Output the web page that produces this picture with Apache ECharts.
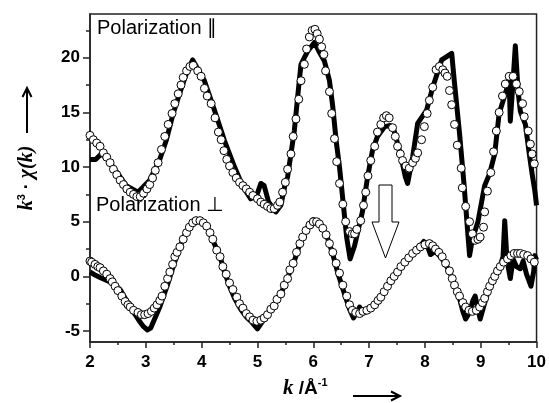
<!DOCTYPE html>
<html>
<head>
<meta charset="utf-8">
<script src="https://cdn.jsdelivr.net/npm/echarts@6/dist/echarts.min.js"></script>
<style>
  html, body { margin: 0; padding: 0; background: #fff; }
  #chart { width: 549px; height: 403px; }
</style>
</head>
<body>
<div id="chart"></div>
<script>
// 数据: [k, k^3·χ(k)]
// 平行偏振 - 实验 (粗黑线)
const parExp = [
  [2.0,10.7],[2.1,10.7],[2.2,11.2],[2.3,10.8],[2.5,9.4],[2.65,8.3],[2.86,7.7],[3.07,8.8],
  [3.25,10.7],[3.37,12.5],[3.49,14.9],[3.61,16.8],[3.73,18.6],[3.84,19.8],[4.05,17.9],
  [4.23,15.2],[4.41,12.4],[4.59,10.0],[4.74,8.2],[4.88,7.1],[4.98,7.3],[5.06,8.5],[5.12,8.3],
  [5.2,6.8],[5.33,5.9],[5.42,6.5],[5.49,8.3],[5.54,9.1],[5.6,11.2],[5.66,13.3],[5.72,16.4],
  [5.78,19.4],[5.9,20.6],[6.02,21.4],[6.1,20.6],[6.2,19.7],[6.29,17.9],[6.35,15.5],[6.41,12.4],
  [6.47,10.0],[6.53,7.0],[6.6,3.5],[6.66,1.6],[6.74,2.8],[6.88,5.9],[6.97,9.0],[7.06,11.5],
  [7.15,12.8],[7.28,13.7],[7.38,13.8],[7.45,13.3],[7.56,11.2],[7.65,9.1],[7.69,8.5],[7.78,10.9],
  [7.87,14.0],[8.03,15.2],[8.14,17.3],[8.3,19.8],[8.48,20.4],[8.53,17.7],[8.62,13.1],[8.7,8.5],
  [8.76,4.5],[8.8,1.9],[8.85,3.4],[8.95,5.0],[9.07,8.3],[9.16,9.4],[9.25,11.2],[9.33,14.9],
  [9.44,16.7],[9.51,17.9],[9.53,14.2],[9.58,17.9],[9.62,21.1],[9.67,16.9],[9.71,15.1],
  [9.8,13.9],[9.87,11.2],[9.92,9.4],[9.97,7.8],[10.0,6.5]
];
// 平行偏振 - 拟合 (空心圆)
const parFit = [
  [2.0,12.9],[2.06,12.5],[2.12,12.2],[2.18,11.9],[2.24,11.3],[2.3,10.9],[2.36,10.4],[2.42,9.8],
  [2.48,9.3],[2.54,8.8],[2.6,8.4],[2.66,8.0],[2.72,7.7],[2.78,7.5],[2.84,7.3],[2.9,7.3],
  [2.96,7.6],[3.02,8.0],[3.07,8.4],[3.12,9.0],[3.17,9.7],[3.22,10.4],[3.28,11.6],[3.34,12.8],
  [3.4,13.9],[3.47,14.9],[3.52,15.8],[3.58,16.7],[3.63,17.5],[3.67,18.2],[3.73,18.8],[3.79,19.2],
  [3.85,19.3],[3.93,18.8],[3.99,18.3],[4.05,17.2],[4.1,16.5],[4.17,15.8],[4.24,14.5],[4.3,13.2],
  [4.35,12.5],[4.4,11.5],[4.45,10.7],[4.5,10.1],[4.56,9.5],[4.62,9.0],[4.68,8.6],[4.74,8.3],
  [4.8,8.0],[4.86,7.7],[4.92,7.4],[5.0,7.1],[5.06,6.8],[5.12,6.6],[5.18,6.4],[5.24,6.2],
  [5.3,6.2],[5.36,6.5],[5.4,6.8],[5.45,7.7],[5.5,8.6],[5.54,9.8],[5.6,11.2],[5.64,12.8],
  [5.69,14.4],[5.74,16.2],[5.78,17.9],[5.84,19.4],[5.88,20.8],[5.93,21.9],[5.98,22.5],
  [6.03,22.6],[6.07,22.2],[6.11,21.7],[6.15,21.0],[6.19,20.3],[6.22,18.8],[6.29,16.9],
  [6.33,14.9],[6.38,12.6],[6.42,10.5],[6.47,8.5],[6.53,6.6],[6.58,5.0],[6.65,4.1],[6.7,3.9],
  [6.74,3.9],[6.78,4.3],[6.85,5.1],[6.9,6.5],[6.94,7.7],[6.98,9.2],[7.03,10.6],[7.1,11.9],
  [7.15,13.2],[7.21,13.9],[7.26,14.5],[7.31,14.7],[7.36,14.5],[7.42,13.6],[7.47,12.8],
  [7.51,11.9],[7.56,11.2],[7.6,10.6],[7.66,10.1],[7.72,9.9],[7.78,10.4],[7.83,10.8],[7.87,11.3],
  [7.94,12.5],[7.99,13.7],[8.04,14.9],[8.08,16.1],[8.14,17.3],[8.2,18.9],[8.26,19.2],
  [8.32,18.9],[8.36,18.6],[8.4,18.3],[8.44,17.0],[8.48,15.7],[8.53,13.9],[8.58,12.0],
  [8.65,9.9],[8.67,8.1],[8.73,6.4],[8.8,5.0],[8.85,3.9],[8.9,3.3],[8.95,3.4],[8.99,3.6],
  [9.05,4.5],[9.07,5.9],[9.12,7.8],[9.18,9.5],[9.23,11.4],[9.28,13.3],[9.33,15.0],[9.39,16.5],
  [9.44,17.6],[9.51,18.3],[9.58,18.3],[9.64,17.6],[9.69,16.9],[9.75,15.8],[9.78,14.6],
  [9.85,13.3],[9.89,12.1],[9.92,11.2],[9.96,10.3]
];
// 垂直偏振 - 实验
const perpExp = [
  [2.0,0.4],[2.1,0.1],[2.18,-0.1],[2.36,-0.5],[2.45,-0.8],[2.54,-1.2],[2.63,-2.0],[2.72,-2.8],
  [2.81,-3.5],[2.9,-4.2],[2.96,-4.6],[3.03,-4.9],[3.09,-4.7],[3.14,-4.1],[3.2,-3.4],[3.25,-2.8],
  [3.31,-1.9],[3.38,-0.9],[3.49,0.9],[3.61,2.7],[3.7,3.8],[3.79,4.5],[3.9,5.2],[4.0,5.0],
  [4.11,4.4],[4.2,3.3],[4.33,1.8],[4.41,0.4],[4.5,-0.9],[4.59,-2.0],[4.7,-3.0],[4.8,-3.7],
  [4.9,-4.2],[5.0,-4.8],[5.08,-4.2],[5.2,-3.3],[5.3,-2.6],[5.42,-1.6],[5.54,-0.1],[5.66,1.4],
  [5.78,3.3],[5.9,4.5],[6.0,5.2],[6.1,5.0],[6.23,3.9],[6.34,2.2],[6.44,0.3],[6.56,-1.6],
  [6.65,-3.0],[6.72,-3.8],[6.78,-3.3],[6.83,-2.8],[6.88,-3.4],[6.96,-3.2],[7.1,-2.7],
  [7.21,-1.9],[7.33,-0.9],[7.51,0.4],[7.64,1.3],[7.78,2.1],[7.92,2.8],[7.98,3.2],[8.05,2.7],
  [8.1,2.0],[8.19,2.3],[8.31,1.6],[8.44,0.5],[8.53,-0.8],[8.62,-2.0],[8.68,-3.2],[8.73,-3.9],
  [8.8,-3.3],[8.86,-2.2],[8.9,-1.8],[8.95,-3.0],[8.99,-3.9],[9.05,-2.8],[9.16,-0.9],[9.25,0.0],
  [9.35,1.0],[9.4,1.8],[9.43,5.1],[9.47,1.5],[9.53,-0.2],[9.58,1.6],[9.64,0.9],[9.71,0.7],
  [9.76,1.4],[9.82,0.2],[9.9,-0.9],[9.95,0.5],[9.97,1.9],[10.0,1.5]
];
// 垂直偏振 - 拟合
const perpFit = [
  [2.0,1.4],[2.03,1.3],[2.09,1.1],[2.14,0.9],[2.18,0.8],[2.24,0.5],[2.3,0.2],[2.36,-0.2],
  [2.4,-0.5],[2.45,-0.9],[2.5,-1.3],[2.57,-1.8],[2.63,-2.3],[2.68,-2.6],[2.72,-2.8],[2.78,-3.1],
  [2.86,-3.3],[2.92,-3.5],[2.98,-3.5],[3.04,-3.4],[3.1,-3.2],[3.15,-2.9],[3.2,-2.6],[3.25,-2.2],
  [3.29,-1.8],[3.34,-0.9],[3.39,-0.2],[3.43,0.4],[3.48,1.1],[3.52,1.8],[3.56,2.2],[3.61,2.7],
  [3.67,3.4],[3.73,4.0],[3.78,4.5],[3.84,4.9],[3.9,5.1],[3.97,5.1],[4.03,4.9],[4.09,4.6],
  [4.15,4.0],[4.2,3.4],[4.27,2.4],[4.33,1.8],[4.38,0.9],[4.44,0.2],[4.5,-0.6],[4.56,-1.2],
  [4.63,-1.9],[4.68,-2.5],[4.74,-2.9],[4.8,-3.4],[4.86,-3.7],[4.92,-4.0],[4.99,-4.1],
  [5.06,-4.0],[5.12,-3.8],[5.18,-3.5],[5.24,-3.0],[5.3,-2.7],[5.35,-2.1],[5.42,-1.6],
  [5.48,-0.8],[5.54,-0.2],[5.58,0.6],[5.64,1.2],[5.7,2.2],[5.76,3.0],[5.81,3.6],[5.87,4.2],
  [5.94,4.7],[6.0,5.0],[6.06,5.0],[6.11,4.8],[6.17,4.4],[6.23,3.8],[6.29,3.0],[6.35,2.2],
  [6.41,1.2],[6.47,0.3],[6.53,-0.8],[6.6,-1.8],[6.65,-2.6],[6.7,-3.1],[6.76,-3.3],[6.83,-3.4],
  [6.89,-3.2],[6.96,-3.1],[7.03,-2.9],[7.1,-2.6],[7.16,-2.2],[7.21,-1.9],[7.27,-1.4],
  [7.33,-0.9],[7.39,-0.4],[7.45,0.0],[7.51,0.4],[7.57,0.9],[7.64,1.3],[7.71,1.7],[7.78,2.1],
  [7.85,2.4],[7.92,2.7],[8.0,2.9],[8.08,3.0],[8.14,2.8],[8.19,2.5],[8.25,2.2],[8.31,1.8],
  [8.37,1.2],[8.44,0.5],[8.49,-0.2],[8.53,-0.8],[8.58,-1.4],[8.62,-1.8],[8.68,-2.4],
  [8.73,-2.8],[8.79,-3.1],[8.85,-3.2],[8.92,-3.1],[8.98,-2.8],[9.03,-2.4],[9.07,-2.0],
  [9.12,-1.4],[9.16,-0.9],[9.21,-0.4],[9.25,0.0],[9.3,0.5],[9.35,0.9],[9.41,1.3],[9.48,1.6],
  [9.54,1.9],[9.6,2.1],[9.66,2.1],[9.71,2.1],[9.77,2.0],[9.84,1.9],[9.9,1.6],[9.96,1.3]
];

// 刻度
const yMajorTicks = [-5, 0, 5, 10, 15, 20];
const yMinorTicks = [-2.5, 2.5, 7.5, 12.5, 17.5, 22.5];

const SANS = "'Liberation Sans', Arial, 'DejaVu Sans', sans-serif";
const SERIF = "'Liberation Serif', 'DejaVu Serif', serif";

const chart = echarts.init(document.getElementById('chart'), null, { renderer: 'canvas' });

const tickLabel = { color: '#000', fontFamily: SANS, fontWeight: 'bold', fontSize: 17 };

const option = {
    animation: false,
    backgroundColor: '#fff',
    grid: {
        left: 90, right: 12, top: 14, bottom: 61,
        show: true, borderColor: '#222', borderWidth: 1.5, backgroundColor: 'transparent'
    },
    xAxis: {
        type: 'value',
        min: 2, max: 10, interval: 1,
        axisLine: { onZero: false, lineStyle: { color: '#222', width: 1.5 } },
        axisTick: { length: 6, lineStyle: { color: '#222', width: 1.5 } },
        minorTick: { show: true, splitNumber: 2, length: 3, lineStyle: { color: '#222', width: 1.5 } },
        splitLine: { show: false },
        axisLabel: Object.assign({ margin: 12 }, tickLabel)
    },
    yAxis: [
        {
            type: 'value',
            min: -6, max: 24,
            axisLine: { show: true, onZero: false, lineStyle: { color: '#222', width: 1.5 } },
            axisTick: { show: true, length: 7, customValues: yMajorTicks, lineStyle: { color: '#222', width: 1.5 } },
            splitLine: { show: false },
            axisLabel: Object.assign({ margin: 10, customValues: yMajorTicks }, tickLabel)
        },
        {
            type: 'value',
            min: -6, max: 24,
            position: 'left',
            axisLine: { show: false, onZero: false },
            axisTick: { show: true, length: 4, customValues: yMinorTicks, lineStyle: { color: '#222', width: 1.5 } },
            splitLine: { show: false },
            axisLabel: { show: false }
        }
    ],
    series: [
        {
            name: 'par-exp', type: 'line', data: parExp, showSymbol: false,
            lineStyle: { color: '#000', width: 5, join: 'round' }, z: 2
        },
        {
            name: 'perp-exp', type: 'line', data: perpExp, showSymbol: false,
            lineStyle: { color: '#000', width: 5, join: 'round' }, z: 2
        },
        {
            name: 'par-fit', type: 'scatter', data: parFit, symbol: 'circle', symbolSize: 8,
            itemStyle: { color: '#fff', borderColor: '#000', borderWidth: 1, opacity: 1 }, z: 3
        },
        {
            name: 'perp-fit', type: 'scatter', data: perpFit, symbol: 'circle', symbolSize: 8,
            itemStyle: { color: '#fff', borderColor: '#000', borderWidth: 1, opacity: 1 }, z: 3
        }
    ],
    graphic: [
        // 图内标注
        {
            type: 'text', left: 97, top: 18, z: 10,
            style: { text: 'Polarization \u2225', fill: '#000', font: '20px ' + SANS }
        },
        {
            type: 'text', left: 96, top: 195, z: 10,
            style: { text: 'Polarization \u22A5', fill: '#000', font: '20px ' + SANS }
        },
        // 空心向下箭头
        {
            type: 'polygon', z: 10,
            shape: { points: [[379, 185], [392, 185], [392, 222], [399, 222], [385.5, 258], [372, 222], [379, 222]] },
            style: { fill: '#fff', stroke: '#000', lineWidth: 1 }
        },
        // y 轴标题
        {
            type: 'text', x: 27, y: 178, rotation: Math.PI / 2, z: 10,
            style: {
                text: '{i|k}{s|3}{n| · }{i|χ(k)}',
                align: 'center', verticalAlign: 'middle',
                rich: {
                    i: { fontFamily: SERIF, fontStyle: 'italic', fontWeight: 'bold', fontSize: 20, fill: '#000' },
                    s: { fontFamily: SANS, fontWeight: 'bold', fontSize: 11, fill: '#000', padding: [0, 0, 10, 0] },
                    n: { fontFamily: SANS, fontWeight: 'bold', fontSize: 18, fill: '#000' }
                }
            }
        },
        {
            type: 'polyline', z: 10,
            shape: { points: [[27, 133], [27, 89]] },
            style: { stroke: '#000', lineWidth: 2, fill: null }
        },
        {
            type: 'polyline', z: 10,
            shape: { points: [[22.5, 97], [27, 88], [31.5, 97]] },
            style: { stroke: '#000', lineWidth: 2, fill: null }
        },
        // x 轴标题
        {
            type: 'text', x: 283, y: 400, z: 10,
            style: {
                text: '{i|k}{n| /Å}{s|-1}',
                verticalAlign: 'bottom',
                rich: {
                    i: { fontFamily: SERIF, fontStyle: 'italic', fontWeight: 'bold', fontSize: 21, fill: '#000' },
                    n: { fontFamily: SANS, fontWeight: 'bold', fontSize: 19, fill: '#000' },
                    s: { fontFamily: SANS, fontWeight: 'bold', fontSize: 11, fill: '#000', padding: [0, 0, 12, 0] }
                }
            }
        },
        {
            type: 'polyline', z: 10,
            shape: { points: [[353, 396], [399, 396]] },
            style: { stroke: '#000', lineWidth: 2, fill: null }
        },
        {
            type: 'polyline', z: 10,
            shape: { points: [[391, 391.5], [400, 396], [391, 400.5]] },
            style: { stroke: '#000', lineWidth: 2, fill: null }
        }
    ]
};

chart.setOption(option);
</script>
</body>
</html>
